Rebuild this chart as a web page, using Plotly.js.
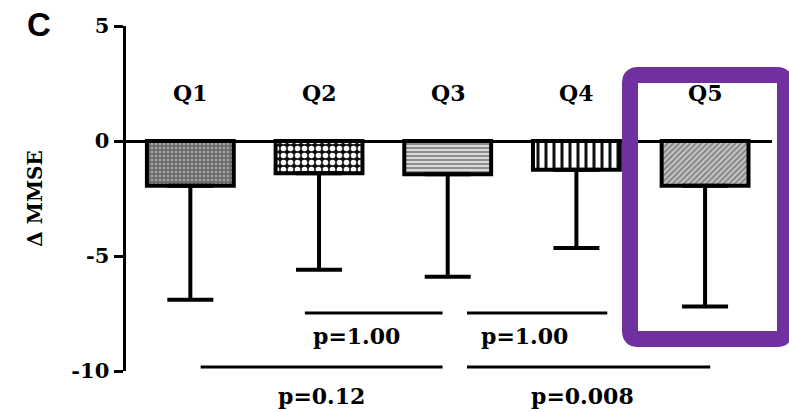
<!DOCTYPE html>
<html>
<head>
<meta charset="utf-8">
<script src="https://cdn.plot.ly/plotly-3.0.1.min.js"></script>
<style>html,body{margin:0;padding:0;background:#fff;}#chart{width:789px;height:412px;}</style>
</head>
<body>
<div id="chart"></div>
<script>
// ---- data ----
const categories = ["Q1", "Q2", "Q3", "Q4", "Q5"];
const meanChange = [-1.95, -1.4, -1.45, -1.25, -1.95];
const sdDown = [4.95, 4.2, 4.45, 3.4, 5.25];
const yTickVals = [5, 0, -5, -10];
const yTickText = ["5", "0", "-5", "-10"];
// comparison brackets: [from, to] in category index units, p-value text
const compFrom = [0.89, 2.15, 0.08, 2.15];
const compTo = [1.96, 3.24, 1.96, 4.04];
const compLevel = [-7.48, -7.48, -9.83, -9.83];
const compText = ["p=1.00", "p=1.00", "p=0.12", "p=0.008"];
const compLabelX = [1.29, 2.6, 1.02, 3.05];

// ---- styling ----
const serif = {family: "DejaVu Serif, serif", weight: "bold", color: "#000"};
const bgColors = ["#6c6c6c", "#111111", "#d9d9d9", "#ffffff", "#8a8a8a"];
const fgColors = ["#a6a6a6", "#ffffff", "#7a7a7a", "#111111", "#d0d0d0"];
const patShapes = [".", ".", "-", "|", "/"];
const patSizes = [4, 7, 4, 8, 4];
const patSolid = [0.35, 0.5, 0.4, 0.38, 0.4];

const traces = categories.map((c, i) => ({
  type: "bar",
  x: [i],
  y: [meanChange[i]],
  width: 0.675,
  name: c,
  marker: {
    color: bgColors[i],
    line: {color: "#000", width: 4},
    pattern: {
      shape: patShapes[i], fillmode: "overlay",
      fgcolor: fgColors[i], fgopacity: 1,
      size: patSizes[i], solidity: patSolid[i]
    }
  },
  error_y: {
    type: "data", symmetric: false,
    array: [0], arrayminus: [sdDown[i]],
    color: "#000", thickness: 4, width: 23
  },
  hoverinfo: "skip"
}));

const L = 126, R = 17, T = 26, B = 41, W = 789, H = 412;
const pw = W - L - R, ph = H - T - B;
const px = v => (v - L) / pw;
const py = v => (H - B - v) / ph;

const annotations = [];
categories.forEach((c, i) => annotations.push({
  x: i, y: 2.08, xref: "x", yref: "y", text: c, showarrow: false,
  font: Object.assign({size: 22}, serif), xanchor: "center", yanchor: "middle"
}));
compText.forEach((t, i) => annotations.push({
  x: compLabelX[i], xref: "x", y: py(compLevel[i] > -9 ? 336 : 396), yref: "paper",
  text: t, showarrow: false, font: Object.assign({size: 22}, serif),
  xanchor: "center", yanchor: "middle"
}));
annotations.push({
  x: px(39), y: py(25), xref: "paper", yref: "paper", text: "C", showarrow: false,
  font: {family: "Liberation Sans, Arial, sans-serif", weight: "bold", size: 33, color: "#000"},
  xanchor: "center", yanchor: "middle"
});

const shapes = compFrom.map((f, i) => ({
  type: "line", xref: "x", yref: "y", x0: f, x1: compTo[i], y0: compLevel[i], y1: compLevel[i],
  line: {color: "#000", width: 3}
}));
// purple highlight box (rounded)
(function () {
  const x0 = px(630), x1 = px(785), y0 = py(339), y1 = py(75);
  const rx = 8 / pw, ry = 8 / ph;
  const d = `M ${x0 + rx},${y1} L ${x1 - rx},${y1} Q ${x1},${y1} ${x1},${y1 - ry} L ${x1},${y0 + ry} Q ${x1},${y0} ${x1 - rx},${y0} L ${x0 + rx},${y0} Q ${x0},${y0} ${x0},${y0 + ry} L ${x0},${y1 - ry} Q ${x0},${y1} ${x0 + rx},${y1} Z`;
  shapes.push({type: "path", xref: "paper", yref: "paper", path: d, line: {color: "#7030A0", width: 16}, layer: "above"});
})();

const layout = {
  width: W, height: H,
  margin: {l: L, r: R, t: T, b: B, pad: 0},
  paper_bgcolor: "#fff", plot_bgcolor: "#fff",
  showlegend: false,
  barmode: "overlay",
  xaxis: {range: [-0.5, 4.52], visible: false, fixedrange: true},
  yaxis: {
    range: [-10, 5], tickvals: yTickVals, ticktext: yTickText,
    showgrid: false, zeroline: true, zerolinecolor: "#000", zerolinewidth: 3,
    showline: true, linecolor: "#000", linewidth: 3.5,
    ticks: "outside", ticklen: 9, tickwidth: 3, tickcolor: "#000",
    tickfont: Object.assign({size: 21}, serif),
    title: {text: "Δ MMSE", font: Object.assign({size: 20}, serif), standoff: 24},
    automargin: false, fixedrange: true
  },
  annotations: annotations,
  shapes: shapes
};

Plotly.newPlot("chart", traces, layout, {displayModeBar: false, staticPlot: true});
</script>
</body>
</html>
